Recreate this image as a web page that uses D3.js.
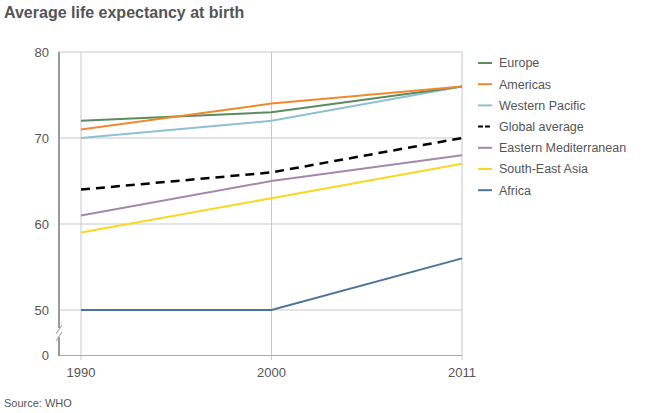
<!DOCTYPE html>
<html><head><meta charset="utf-8">
<script src="https://cdn.jsdelivr.net/npm/d3@7"></script>
<style>body{margin:0;background:#fff;}svg{display:block;font-family:"Liberation Sans",Arial,sans-serif;}</style>
</head><body>
<svg id="c" width="660" height="413"></svg>
<script>
const years = ["1990", "2000", "2011"];
const yTicks = [0, 50, 60, 70, 80];
const seriesNames = ["Europe", "Americas", "Western Pacific", "Global average", "Eastern Mediterranean", "South-East Asia", "Africa"];
const europe = [72, 73, 76];
const americas = [71, 74, 76];
const westernPacific = [70, 72, 76];
const globalAverage = [64, 66, 70];
const easternMed = [61, 65, 68];
const southEastAsia = [59, 63, 67];
const africa = [50, 50, 56];
const seriesValues = [europe, americas, westernPacific, globalAverage, easternMed, southEastAsia, africa];
const colors = ["#5b8b5e", "#f0892e", "#8fc0d2", "#000000", "#a488ab", "#f7d823", "#4d7598"];

const svg = d3.select("#c");
const x = d3.scalePoint().domain(years).range([81, 462]);
const y = d3.scaleLinear().domain([0, 50, 80]).range([355, 310, 52]);

svg.append("text").attr("x", 4).attr("y", 18).text("Average life expectancy at birth")
  .attr("font-size", 16).attr("font-weight", "bold").attr("fill", "#555");

// horizontal gridlines
svg.append("g").selectAll("line").data(yTicks.filter(d => d > 0)).join("line")
  .attr("x1", 59).attr("x2", 462).attr("y1", d => y(d)).attr("y2", d => y(d))
  .attr("stroke", "#c8c8c8").attr("stroke-width", 1);
// vertical gridlines
svg.append("g").selectAll("line").data(years).join("line")
  .attr("x1", d => x(d)).attr("x2", d => x(d)).attr("y1", y(80)).attr("y2", 360)
  .attr("stroke", "#c8c8c8").attr("stroke-width", 1);

// x axis line
svg.append("line").attr("x1", 59).attr("x2", 462).attr("y1", y(0) + 0.5).attr("y2", y(0) + 0.5)
  .attr("stroke", "#aaa").attr("stroke-width", 1);

// y axis line with break
svg.append("line").attr("x1", 59).attr("x2", 59).attr("y1", y(80)).attr("y2", 328)
  .attr("stroke", "#999").attr("stroke-width", 2);
svg.append("line").attr("x1", 59).attr("x2", 59).attr("y1", 337).attr("y2", y(0) + 1)
  .attr("stroke", "#999").attr("stroke-width", 2);
svg.append("line").attr("x1", 56).attr("x2", 62).attr("y1", 334).attr("y2", 325).attr("stroke", "#999").attr("stroke-width", 1);
svg.append("line").attr("x1", 56).attr("x2", 62).attr("y1", 341).attr("y2", 332).attr("stroke", "#999").attr("stroke-width", 1);

// y tick labels
svg.append("g").selectAll("text").data(yTicks).join("text")
  .attr("x", 49).attr("y", d => y(d)).attr("dy", "0.36em").attr("text-anchor", "end")
  .attr("font-size", 13).attr("fill", "#555").text(d => d);

// x tick labels
svg.append("g").selectAll("text").data(years).join("text")
  .attr("x", d => x(d)).attr("y", 377).attr("text-anchor", "middle")
  .attr("font-size", 13).attr("fill", "#555").text(d => d);

// lines
const line = d3.line().x((d, i) => x(years[i])).y(d => y(d));
const order = [6, 5, 4, 3, 2, 0, 1];
svg.append("g").selectAll("path").data(order).join("path")
  .attr("d", i => line(seriesValues[i])).attr("fill", "none")
  .attr("stroke", i => colors[i]).attr("stroke-width", i => i === 3 ? 2.5 : 2)
  .attr("stroke-dasharray", i => i === 3 ? "9,6" : null);

// legend
const lg = svg.append("g").selectAll("g").data(seriesNames).join("g")
  .attr("transform", (d, i) => `translate(478,${63 + i * 21.2})`);
lg.append("line").attr("x1", 0).attr("x2", 14).attr("stroke", (d, i) => colors[i])
  .attr("stroke-width", 2).attr("stroke-dasharray", (d, i) => i === 3 ? "5,2" : null);
lg.append("text").attr("x", 21).attr("dy", "0.35em").attr("font-size", 12.5).attr("fill", "#555").text(d => d);

svg.append("text").attr("x", 4).attr("y", 407).attr("font-size", 11).attr("fill", "#555").text("Source: WHO");
</script>
</body></html>
